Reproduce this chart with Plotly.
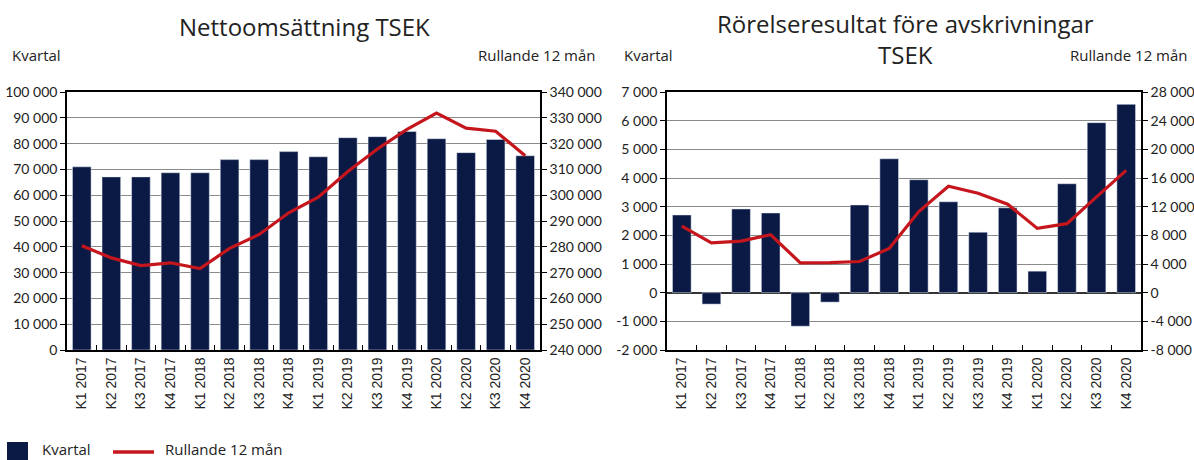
import plotly.graph_objects as go
from plotly.subplots import make_subplots

categories = ["K1 2017", "K2 2017", "K3 2017", "K4 2017",
              "K1 2018", "K2 2018", "K3 2018", "K4 2018",
              "K1 2019", "K2 2019", "K3 2019", "K4 2019",
              "K1 2020", "K2 2020", "K3 2020", "K4 2020"]

# Nettoomsättning TSEK
sales_quarter = [71000, 67100, 67100, 68700, 68700, 73800, 73800, 76900,
                 74900, 82300, 82700, 84700, 81900, 76500, 81600, 75300]
sales_rolling = [280400, 275700, 272700, 273800, 271600, 279400, 284800, 293200,
                 299200, 309200, 317900, 325500, 331800, 326000, 324800, 315300]

# Rörelseresultat före avskrivningar TSEK
ebitda_quarter = [2710, -400, 2920, 2780, -1170, -330, 3060, 4670,
                  3940, 3170, 2110, 2960, 750, 3800, 5930, 6570]
ebitda_rolling = [9300, 6960, 7200, 8080, 4160, 4200, 4350, 6170,
                  11310, 14860, 13880, 12340, 8970, 9630, 13360, 17060]

left_ticks = list(range(0, 100001, 10000))
left_ticks2 = list(range(240000, 340001, 10000))
right_ticks = list(range(-2000, 7001, 1000))
right_ticks2 = list(range(-8000, 28001, 4000))


def fmt(v):
    return f"{v:,}".replace(",", " ")


NAVY = "#0b1a45"
RED = "#c4161c"
TEXTFONT = "'Open Sans', Lato, sans-serif"
TICKFAMILY = "Lato, 'Open Sans', sans-serif"
XTICKFONT = dict(family="Liberation Sans, Arial, sans-serif", size=14, color="#222222")
YTICKFONT = dict(family=TICKFAMILY, size=14, color="#222222")

fig = make_subplots(rows=1, cols=2,
                    specs=[[{"secondary_y": True}, {"secondary_y": True}]])

fig.add_trace(go.Bar(x=categories, y=sales_quarter, marker_color=NAVY,
                     name="Kvartal", showlegend=False), row=1, col=1, secondary_y=False)
fig.add_trace(go.Scatter(x=categories, y=sales_rolling, mode="lines",
                         line=dict(color=RED, width=3.2), name="Rullande 12 mån",
                         showlegend=False), row=1, col=1, secondary_y=True)
fig.add_trace(go.Bar(x=categories, y=ebitda_quarter, marker_color=NAVY,
                     name="Kvartal", showlegend=False), row=1, col=2, secondary_y=False)
fig.add_trace(go.Scatter(x=categories, y=ebitda_rolling, mode="lines",
                         line=dict(color=RED, width=3.2), name="Rullande 12 mån",
                         showlegend=False), row=1, col=2, secondary_y=True)

W, H = 1194, 460
ydom = [1 - 350 / H, 1 - 92 / H]
xdom1 = [67 / W, 540 / W]
xdom2 = [667 / W, 1141 / W]

xcommon = dict(type="category", tickangle=-90, tickfont=XTICKFONT, automargin=False,
               ticks="inside", tickson="boundaries", ticklen=5, tickcolor="#000",
               showline=True, linecolor="#000", linewidth=1.5, mirror=True,
               showgrid=False, zeroline=False)
ycommon = dict(tickfont=YTICKFONT, showline=True, linecolor="#000", linewidth=1.5,
               ticks="outside", ticklen=5, tickcolor="#000", automargin=False,
               gridcolor="#8a8a8a", gridwidth=1.3)
y2common = dict(showgrid=False, side="right", tickfont=YTICKFONT, showline=True,
                linecolor="#000", linewidth=1.5, ticks="outside", ticklen=5,
                tickcolor="#000", zeroline=False, automargin=False)

fig.update_layout(
    width=W, height=H, margin=dict(l=0, r=0, t=0, b=0, autoexpand=False),
    plot_bgcolor="white", paper_bgcolor="white",
    bargap=0.37, showlegend=False,
    xaxis=dict(domain=xdom1, **xcommon),
    xaxis2=dict(domain=xdom2, **xcommon),
    yaxis=dict(domain=ydom, range=[0, 100000], tickvals=left_ticks,
               ticktext=[fmt(v) for v in left_ticks], zeroline=False, **ycommon),
    yaxis2=dict(domain=ydom, range=[240000, 340000], tickvals=left_ticks2,
                ticktext=[fmt(v) for v in left_ticks2], overlaying="y", anchor="x",
                **y2common),
    yaxis3=dict(domain=ydom, range=[-2000, 7000], tickvals=right_ticks,
                ticktext=[fmt(v) for v in right_ticks],
                zeroline=True, zerolinecolor="#333", zerolinewidth=1.5, **ycommon),
    yaxis4=dict(domain=ydom, range=[-8000, 28000], tickvals=right_ticks2,
                ticktext=[fmt(v) for v in right_ticks2], overlaying="y3", anchor="x2",
                **y2common),
)

annots = [
    dict(text="Nettoomsättning TSEK", x=304 / W, y=1 - 27 / H),
    dict(text="Rörelseresultat före avskrivningar<br>TSEK", x=905 / W, y=1 - 39 / H),
]
for a in annots:
    fig.add_annotation(text=a["text"], x=a["x"], y=a["y"], xref="paper", yref="paper",
                       xanchor="center", yanchor="middle", showarrow=False,
                       font=dict(family=TEXTFONT, size=24, color="#222"))

for txt, x, anchor in [("Kvartal", 10, "left"), ("Rullande 12 mån", 598, "right"),
                       ("Kvartal", 622, "left"), ("Rullande 12 mån", 1190, "right")]:
    fig.add_annotation(text=txt, x=x / W, y=1 - 55 / H, xref="paper", yref="paper",
                       xanchor=anchor, yanchor="middle", showarrow=False,
                       font=dict(family=TEXTFONT, size=15, color="#222"))

# Legend (drawn manually to match the reference's layout)
fig.add_shape(type="rect", xref="paper", yref="paper",
              x0=7 / W, x1=28 / W, y0=0, y1=1 - 442 / H,
              fillcolor=NAVY, line=dict(width=0))
fig.add_shape(type="line", xref="paper", yref="paper",
              x0=113 / W, x1=154 / W, y0=1 - 452 / H, y1=1 - 452 / H,
              line=dict(color=RED, width=3.5))
for txt, x in [("Kvartal", 40), ("Rullande 12 mån", 163)]:
    fig.add_annotation(text=txt, x=x / W, y=1 - 449 / H, xref="paper", yref="paper",
                       xanchor="left", yanchor="middle", showarrow=False,
                       font=dict(family=TEXTFONT, size=15, color="#222"))

fig.write_html("out.html", post_script="document.body.style.margin='0';",
               config={"displayModeBar": False})
